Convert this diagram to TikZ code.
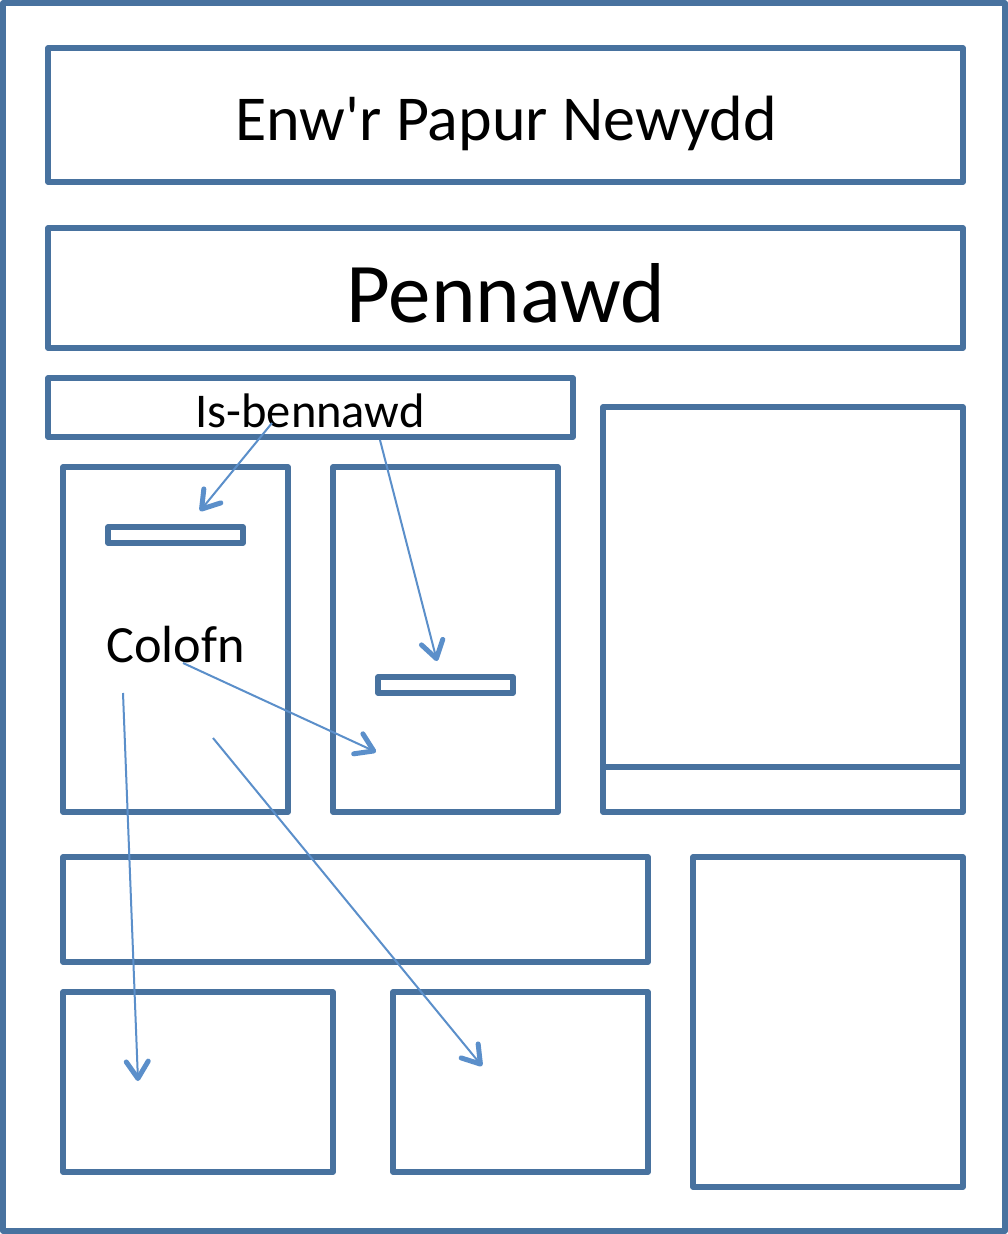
\documentclass[tikz,border=0pt]{standalone}
\usepackage{fontspec}
\setmainfont{Carlito}
\usetikzlibrary{arrows.meta}
\definecolor{boxblue}{HTML}{48729F}
\definecolor{arrblue}{HTML}{5B8FCA}
\tikzset{
  frame/.style={draw=boxblue, line width=5.5pt, line join=round},
  pointer/.style={draw=arrblue, line width=2pt, -{Straight Barb[round,length=17pt,width=22pt,line width=5pt]}},
  lbl/.style={inner sep=0pt, anchor=base, text=black}
}
\begin{document}
\begin{tikzpicture}[x=1pt,y=-1pt]
\useasboundingbox[fill=white] (0,0) rectangle (1008,1234);
% boxes
\draw[frame] (3,3) rectangle (1005,1231);
\draw[frame] (48,48) rectangle (963,182);
\draw[frame] (48,228) rectangle (963,348);
\draw[frame] (48,378) rectangle (573,437);
\draw[frame] (63,467) rectangle (288,812);
\draw[frame] (108,527) rectangle (243,543);
\draw[frame] (333,467) rectangle (558,812);
\draw[frame] (378,677) rectangle (513,693);
\draw[frame] (603,407) rectangle (963,812);
\draw[frame] (603,767) -- (963,767);
\draw[frame] (63,857) rectangle (648,962);
\draw[frame] (63,992) rectangle (333,1172);
\draw[frame] (393,992) rectangle (648,1172);
\draw[frame] (693,857) rectangle (963,1187);
% texts
\node[lbl, font=\fontsize{64}{70}\selectfont] (title) at (506,140) {Enw\textquotesingle r Papur Newydd};
\node[lbl, font=\fontsize{85}{92}\selectfont] (head) at (506,322) {Pennawd};
\node[lbl, font=\fontsize{48.5}{54}\selectfont] (sub) at (310,427) {Is-bennawd};
\node[lbl, font=\fontsize{52.3}{58}\selectfont, anchor=base west] (col) at (106,662) {Colofn};
% arrow coordinates
\coordinate (a1s) at (272,423);
\coordinate (a1e) at (200,511);
\coordinate (a2s) at (380,440);
\coordinate (a2e) at (437,661);
\coordinate (a3s) at (183,663);
\coordinate (a3e) at (376,752);
\coordinate (a4s) at (123,693);
\coordinate (a4e) at (138,1081);
\coordinate (a5s) at (213,738);
\coordinate (a5e) at (482,1066);
\draw[pointer] (a1s) -- (a1e);
\draw[pointer] (a2s) -- (a2e);
\draw[pointer] (a3s) -- (a3e);
\draw[pointer] (a4s) -- (a4e);
\draw[pointer] (a5s) -- (a5e);
\end{tikzpicture}
\end{document}
